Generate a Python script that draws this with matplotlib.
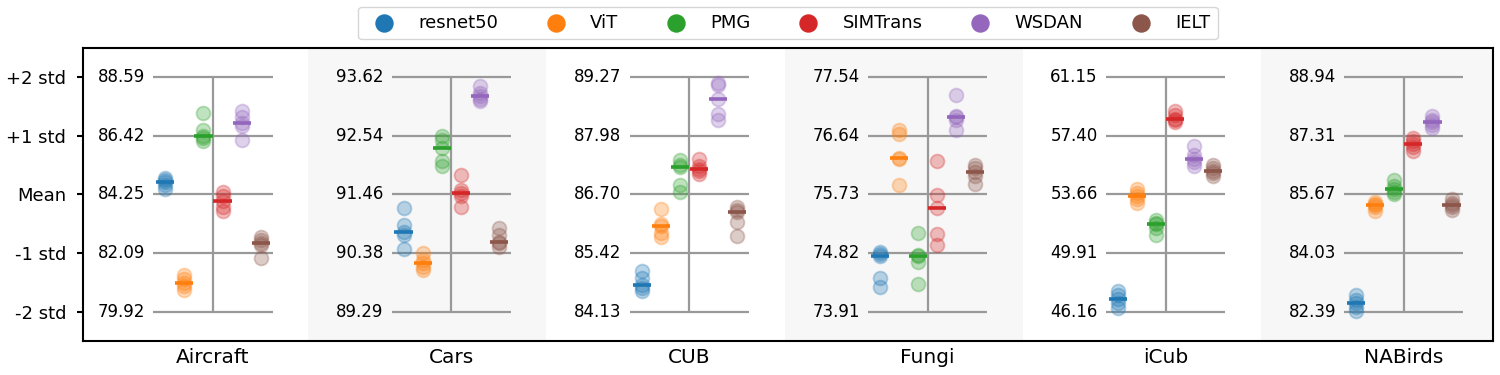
import numpy as np
import matplotlib
matplotlib.use("Agg")
import matplotlib.pyplot as plt

# datasets and the mean / std used to normalise each one
datasets = ['Aircraft', 'Cars', 'CUB', 'Fungi', 'iCub', 'NABirds']
ds_mean = [84.254, 91.458, 86.700, 75.727, 53.657, 85.668]
ds_std = [2.168, 1.082, 1.2845, 0.9083, 3.747, 1.638]

models = ['resnet50', 'ViT', 'PMG', 'SIMTrans', 'WSDAN', 'IELT']
colors = ['#1f77b4', '#ff7f0e', '#2ca02c', '#d62728', '#9467bd', '#8c564b']

# per-run scores in std units (5 seeds per model)
aircraft_z = [[0.279, 0.239, 0.205, 0.165, 0.091],
              [-1.373, -1.447, -1.516, -1.561, -1.630],
              [1.390, 1.105, 0.997, 0.963, 0.906],
              [0.051, -0.034, -0.114, -0.205, -0.274],
              [1.430, 1.322, 1.219, 1.174, 0.934],
              [-0.718, -0.775, -0.821, -0.860, -1.088]]
cars_z = [[-0.234, -0.519, -0.644, -0.689, -0.934],
          [-1.003, -1.117, -1.174, -1.231, -1.288],
          [0.991, 0.934, 0.792, 0.564, 0.479],
          [0.336, 0.080, 0.023, -0.034, -0.205],
          [1.846, 1.732, 1.675, 1.630, 1.590],
          [-0.564, -0.689, -0.815, -0.832, -0.889]]
cub_z = [[-1.299, -1.430, -1.544, -1.601, -1.641],
         [-0.251, -0.501, -0.536, -0.661, -0.718],
         [0.593, 0.507, 0.467, 0.165, 0.051],
         [0.604, 0.479, 0.433, 0.393, 0.353],
         [1.903, 1.875, 1.630, 1.379, 1.276],
         [-0.205, -0.262, -0.302, -0.462, -0.707]]
fungi_z = [[-0.974, -1.014, -1.048, -1.430, -1.584],
           [1.105, 1.037, 0.621, 0.610, 0.165],
           [-0.661, -1.031, -1.054, -1.145, -1.533],
           [0.564, -0.017, -0.234, -0.678, -0.860],
           [1.704, 1.345, 1.316, 1.276, 1.105],
           [0.507, 0.450, 0.382, 0.308, 0.182]]
icub_z = [[-1.641, -1.715, -1.783, -1.858, -1.943],
          [0.091, 0.023, -0.023, -0.080, -0.137],
          [-0.433, -0.479, -0.507, -0.575, -0.689],
          [1.419, 1.362, 1.288, 1.265, 1.231],
          [0.821, 0.678, 0.604, 0.547, 0.490],
          [0.507, 0.450, 0.405, 0.365, 0.308]]
nabirds_z = [[-1.715, -1.801, -1.858, -1.915, -1.983],
             [-0.120, -0.160, -0.182, -0.217, -0.274],
             [0.251, 0.137, 0.091, 0.051, 0.011],
             [0.963, 0.906, 0.860, 0.809, 0.735],
             [1.333, 1.276, 1.236, 1.191, 1.134],
             [-0.080, -0.137, -0.182, -0.217, -0.262]]
all_z = [aircraft_z, cars_z, cub_z, fungi_z, icub_z, nabirds_z]

std_levels = [-2, -1, 0, 1, 2]
std_names = ['-2 std', '-1 std', 'Mean', '+1 std', '+2 std']

fig = plt.figure(figsize=(15, 3.75), dpi=100)
ax = fig.add_axes([0.0553, 0.0907, 0.9400, 0.7813])

step = 0.08
for i, name in enumerate(datasets):
    if i % 2 == 1:
        ax.axvspan(i - 0.6, i + 0.4, color='#f7f7f7', zorder=0, lw=0)
    # cross of reference lines
    ax.hlines(std_levels, i - 0.25, i + 0.25, color='#999999', lw=1.6, zorder=1)
    ax.vlines(i, -2, 2, color='#999999', lw=1.6, zorder=1)
    for lv in std_levels:
        val = ds_mean[i] + lv * ds_std[i]
        ax.text(i - 0.285, lv, f'{val:.2f}', ha='right', va='center', fontsize=12)
    for k, m in enumerate(models):
        x = i + (k - 2.5) * step
        z = np.array(all_z[i][k])
        ax.scatter(np.full(len(z), x), z, s=100, color=colors[k], alpha=0.3,
                   linewidths=1.3, zorder=2)
        ax.hlines(np.median(z), x - 0.038, x + 0.038, color=colors[k], lw=2.6, zorder=3)

for k, m in enumerate(models):
    ax.scatter([], [], s=150, color=colors[k], label=m)

ax.set_xlim(-0.546, 5.374)
ax.set_ylim(-2.5, 2.5)
ax.set_xticks(range(len(datasets)))
ax.set_xticklabels(datasets, fontsize=14.5)
ax.tick_params(axis='x', length=0, pad=5)
ax.set_yticks(std_levels)
ax.set_yticklabels(std_names, fontsize=13)
ax.tick_params(axis='y', length=4, width=1.5, pad=8)
for sp in ax.spines.values():
    sp.set_linewidth(1.5)

ax.legend(loc='lower center', bbox_to_anchor=(0.5, 1.03), ncol=6, fontsize=13,
          frameon=True, handletextpad=0.9, columnspacing=2.2, borderpad=0.4,
          borderaxespad=0)

fig.savefig('out.png', dpi=100)
